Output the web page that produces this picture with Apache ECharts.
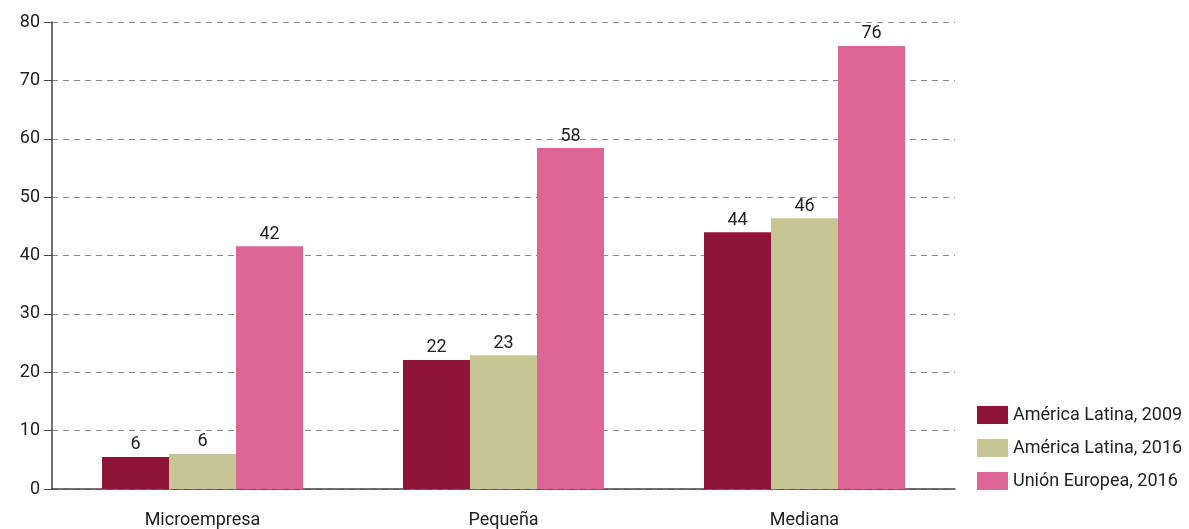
<!DOCTYPE html>
<html>
<head>
<meta charset="utf-8">
<script src="https://cdn.jsdelivr.net/npm/echarts@6/dist/echarts.min.js"></script>
<style>
  html, body { margin: 0; padding: 0; background: #fff; }
  #chart { width: 1189px; height: 529px; }
</style>
</head>
<body>
<div id="chart"></div>
<script>
const categories = ['Microempresa', 'Pequeña', 'Mediana']
const seriesNames = ['América Latina, 2009', 'América Latina, 2016', 'Unión Europea, 2016']
const al2009 = [5.5, 22.1, 44.0]
const al2016 = [6.0, 22.9, 46.4]
const ue2016 = [41.6, 58.4, 75.9]
const colors = ['#8e1538', '#c8c595', '#dc6595']

const font = '"Roboto", sans-serif'
const myChart = echarts.init(document.getElementById('chart'))

// barras con etiqueta redondeada arriba
function barSeries (name, data) {
  return {
    name: name,
    type: 'bar',
    barGap: 0,
    barWidth: 67,
    data: data,
    label: {
      show: true,
      position: 'top',
      distance: 3,
      color: '#222',
      fontFamily: font,
      fontSize: 18,
      formatter: p => Math.round(p.value)
    }
  }
}

const option = {
  color: colors,
  animation: false,
  textStyle: { fontFamily: font },
  grid: { left: 52, right: 234, top: 22, bottom: 40, containLabel: false },
  legend: {
    orient: 'vertical',
    left: 972,
    top: 401,
    itemWidth: 31,
    itemHeight: 18,
    itemGap: 15,
    icon: 'rect',
    textStyle: { fontFamily: font, fontSize: 18, color: '#222' },
    data: seriesNames
  },
  xAxis: {
    type: 'category',
    data: categories,
    axisTick: { show: false },
    axisLine: { lineStyle: { color: '#444', width: 1.5 } },
    axisLabel: { color: '#222', fontFamily: font, fontSize: 18, margin: 22 }
  },
  yAxis: {
    type: 'value',
    min: 0,
    max: 80,
    interval: 10,
    axisLine: { show: true, lineStyle: { color: '#444', width: 1.5 } },
    axisTick: { show: true, length: 8, lineStyle: { color: '#444' } },
    axisLabel: { color: '#222', fontFamily: font, fontSize: 18, margin: 12 },
    splitLine: { lineStyle: { color: '#888', type: [6, 5] } }
  },
  series: [
    barSeries(seriesNames[0], al2009),
    barSeries(seriesNames[1], al2016),
    barSeries(seriesNames[2], ue2016)
  ]
}
myChart.setOption(option)
</script>
</body>
</html>
